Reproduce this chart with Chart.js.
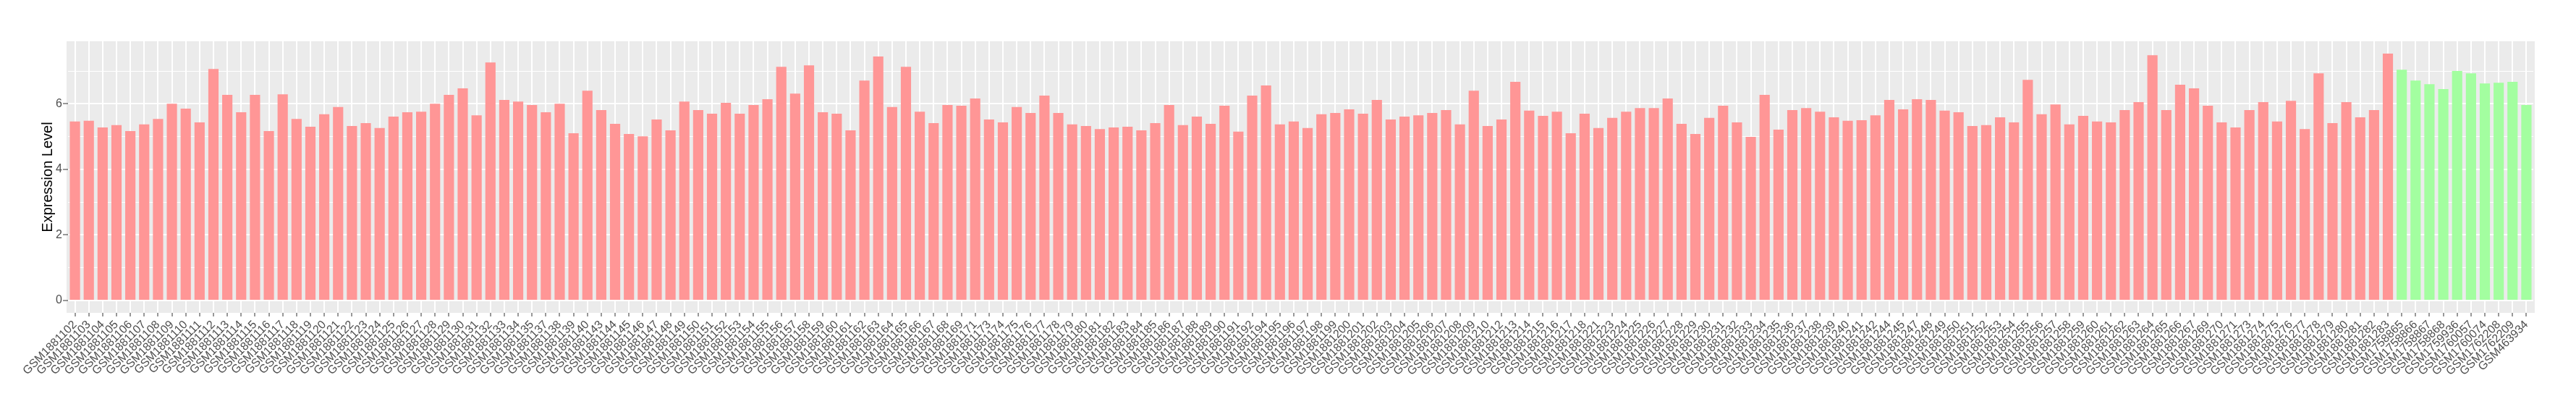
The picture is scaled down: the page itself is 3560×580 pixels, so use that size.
<!DOCTYPE html>
<html>
<head>
<meta charset="utf-8">
<script src="https://cdn.jsdelivr.net/npm/chart.js@4"></script>
<style>
  html, body { margin: 0; padding: 0; background: #ffffff; }
  #wrap { width: 3560px; height: 580px; }
</style>
</head>
<body>
<div id="wrap"><canvas id="exprChart"></canvas></div>
<script>
// Muestras del primer grupo (rojo)
const samplesA = [
  "GSM1881102", "GSM1881103", "GSM1881104", "GSM1881105", "GSM1881106", "GSM1881107", "GSM1881108", "GSM1881109",
  "GSM1881110", "GSM1881111", "GSM1881112", "GSM1881113", "GSM1881114", "GSM1881115", "GSM1881116", "GSM1881117",
  "GSM1881118", "GSM1881119", "GSM1881120", "GSM1881121", "GSM1881122", "GSM1881123", "GSM1881124", "GSM1881125",
  "GSM1881126", "GSM1881127", "GSM1881128", "GSM1881129", "GSM1881130", "GSM1881131", "GSM1881132", "GSM1881133",
  "GSM1881134", "GSM1881135", "GSM1881137", "GSM1881138", "GSM1881139", "GSM1881140", "GSM1881143", "GSM1881144",
  "GSM1881145", "GSM1881146", "GSM1881147", "GSM1881148", "GSM1881149", "GSM1881150", "GSM1881151", "GSM1881152",
  "GSM1881153", "GSM1881154", "GSM1881155", "GSM1881156", "GSM1881157", "GSM1881158", "GSM1881159", "GSM1881160",
  "GSM1881161", "GSM1881162", "GSM1881163", "GSM1881164", "GSM1881165", "GSM1881166", "GSM1881167", "GSM1881168",
  "GSM1881169", "GSM1881171", "GSM1881173", "GSM1881174", "GSM1881175", "GSM1881176", "GSM1881177", "GSM1881178",
  "GSM1881179", "GSM1881180", "GSM1881181", "GSM1881182", "GSM1881183", "GSM1881184", "GSM1881185", "GSM1881186",
  "GSM1881187", "GSM1881188", "GSM1881189", "GSM1881190", "GSM1881191", "GSM1881192", "GSM1881194", "GSM1881195",
  "GSM1881196", "GSM1881197", "GSM1881198", "GSM1881199", "GSM1881200", "GSM1881201", "GSM1881202", "GSM1881203",
  "GSM1881204", "GSM1881205", "GSM1881206", "GSM1881207", "GSM1881208", "GSM1881209", "GSM1881210", "GSM1881212",
  "GSM1881213", "GSM1881214", "GSM1881215", "GSM1881216", "GSM1881217", "GSM1881218", "GSM1881221", "GSM1881223",
  "GSM1881224", "GSM1881225", "GSM1881226", "GSM1881227", "GSM1881228", "GSM1881229", "GSM1881230", "GSM1881231",
  "GSM1881232", "GSM1881233", "GSM1881234", "GSM1881235", "GSM1881236", "GSM1881237", "GSM1881238", "GSM1881239",
  "GSM1881240", "GSM1881241", "GSM1881242", "GSM1881244", "GSM1881245", "GSM1881247", "GSM1881248", "GSM1881249",
  "GSM1881250", "GSM1881251", "GSM1881252", "GSM1881253", "GSM1881254", "GSM1881255", "GSM1881256", "GSM1881257",
  "GSM1881258", "GSM1881259", "GSM1881260", "GSM1881261", "GSM1881262", "GSM1881263", "GSM1881264", "GSM1881265",
  "GSM1881266", "GSM1881267", "GSM1881269", "GSM1881270", "GSM1881271", "GSM1881273", "GSM1881274", "GSM1881275",
  "GSM1881276", "GSM1881277", "GSM1881278", "GSM1881279", "GSM1881280", "GSM1881281", "GSM1881282", "GSM1881283"
];

const valuesA = [
  5.46, 5.48, 5.28, 5.35, 5.17, 5.37, 5.54, 6.00, 5.85, 5.43, 7.06, 6.27, 5.74, 6.27, 5.17, 6.29,
  5.54, 5.30, 5.68, 5.90, 5.32, 5.41, 5.26, 5.61, 5.74, 5.76, 6.00, 6.27, 6.47, 5.65, 7.26, 6.12,
  6.07, 5.96, 5.74, 6.00, 5.10, 6.40, 5.81, 5.39, 5.08, 5.01, 5.52, 5.19, 6.07, 5.81, 5.70, 6.03,
  5.70, 5.96, 6.14, 7.13, 6.31, 7.17, 5.74, 5.70, 5.19, 6.71, 7.44, 5.90, 7.13, 5.76, 5.41, 5.96,
  5.94, 6.16, 5.52, 5.43, 5.90, 5.72, 6.25, 5.72, 5.37, 5.32, 5.23, 5.28, 5.30, 5.19, 5.41, 5.96,
  5.35, 5.61, 5.39, 5.94, 5.15, 6.25, 6.56, 5.37, 5.46, 5.26, 5.68, 5.72, 5.83, 5.70, 6.12, 5.52,
  5.61, 5.65, 5.72, 5.81, 5.37, 6.40, 5.32, 5.52, 6.67, 5.79, 5.63, 5.76, 5.10, 5.70, 5.26, 5.57,
  5.76, 5.87, 5.87, 6.16, 5.39, 5.08, 5.57, 5.94, 5.43, 4.99, 6.27, 5.21, 5.81, 5.87, 5.76, 5.59,
  5.48, 5.50, 5.65, 6.12, 5.83, 6.14, 6.12, 5.79, 5.74, 5.32, 5.35, 5.59, 5.43, 6.73, 5.68, 5.98,
  5.37, 5.63, 5.46, 5.43, 5.81, 6.05, 7.48, 5.81, 6.58, 6.47, 5.94, 5.43, 5.28, 5.81, 6.05, 5.46,
  6.09, 5.23, 6.93, 5.41, 6.05, 5.59, 5.81, 7.53
];

// Muestras del segundo grupo (verde)
const samplesB = [
  "GSM1758865", "GSM1758866", "GSM1758867", "GSM1758868", "GSM1759936",
  "GSM1760057", "GSM1760074", "GSM1762208", "GSM1762209", "GSM463934"
];

const valuesB = [7.04, 6.71, 6.60, 6.45, 7.00, 6.93, 6.62, 6.64, 6.67, 5.96];

const yTicks = [0, 1, 2, 3, 4, 5, 6, 7];

const labels = samplesA.concat(samplesB);
const values = valuesA.concat(valuesB);
const colors = labels.map((_, i) =>
  i < samplesA.length ? "rgb(255, 150, 150)" : "rgb(163, 254, 160)"
);

// Rango del eje Y como en ggplot (5% de margen)
const yMax = Math.max(...values) * 1.05;
const yMin = -Math.max(...values) * 0.05;

const FONT = '"Liberation Sans", Arial, Helvetica, sans-serif';

// Fondo gris del panel
const panelBg = {
  id: "panelBg",
  beforeDraw(chart) {
    const { ctx, chartArea } = chart;
    ctx.save();
    ctx.fillStyle = "#EBEBEB";
    ctx.fillRect(chartArea.left - 2, chartArea.top, chartArea.right - chartArea.left + 4, chartArea.bottom - chartArea.top);
    ctx.restore();
  },
};

function createChart() {
  const ctx = document.getElementById("exprChart").getContext("2d");

  new Chart(ctx, {
    type: "bar",
    data: {
      labels,
      datasets: [
        {
          label: "Expression Level",
          data: values,
          backgroundColor: colors,
          borderWidth: 0,
          barPercentage: 0.74,
          categoryPercentage: 1,
        },
      ],
    },
    options: {
      responsive: true,
      maintainAspectRatio: false,
      animation: false,
      layout: {
        padding: { top: 57, right: 59, bottom: 0, left: 0 },
      },
      plugins: {
        legend: { display: false },
        tooltip: { enabled: false },
      },
      scales: {
        x: {
          type: "category",
          offset: true,
          border: { display: false },
          grid: {
            offset: false,
            color: "#FFFFFF",
            lineWidth: 2,
            tickColor: "#333333",
            tickLength: 5,
            tickWidth: 1,
          },
          ticks: {
            autoSkip: false,
            maxRotation: 45,
            minRotation: 45,
            padding: 2,
            color: "#4D4D4D",
            font: { family: FONT, size: 16 },
          },
          afterFit(scale) {
            scale.height = 148;
          },
        },
        y: {
          min: yMin,
          max: yMax,
          border: { display: false },
          afterBuildTicks(scale) {
            scale.ticks = yTicks.map((v) => ({ value: v }));
          },
          grid: {
            color: "#FFFFFF",
            lineWidth: (c) => (c.tick && c.tick.value % 2 === 0 ? 2 : 1),
            tickColor: (c) => (c.tick && c.tick.value % 2 === 0 ? "#333333" : "rgba(0,0,0,0)"),
            tickLength: 7,
            tickWidth: 1,
          },
          ticks: {
            padding: 1,
            color: "#4D4D4D",
            font: { family: FONT, size: 16 },
            callback: (v) => (v % 2 === 0 ? String(v) : ""),
          },
          title: {
            display: true,
            text: "Expression Level",
            color: "#000000",
            font: { family: FONT, size: 20 },
            padding: { top: 54, bottom: 0 },
          },
          afterFit(scale) {
            scale.width = 94;
          },
        },
      },
    },
    plugins: [panelBg],
  });
}

createChart();
</script>
</body>
</html>
